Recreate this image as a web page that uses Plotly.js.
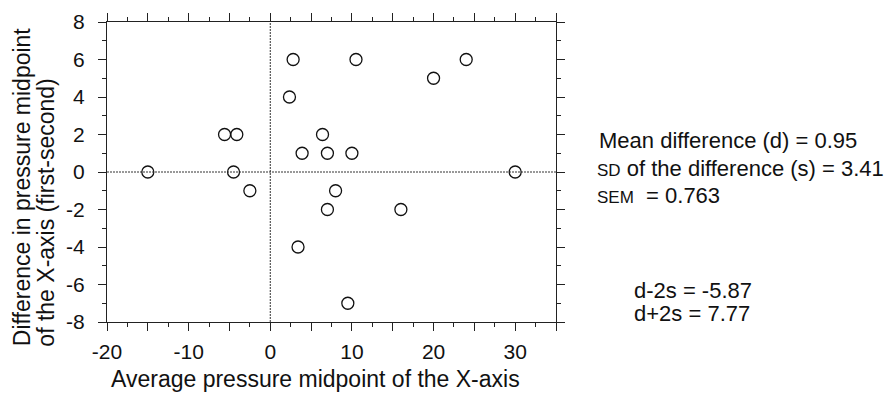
<!DOCTYPE html>
<html>
<head>
<meta charset="utf-8">
<script src="https://cdn.plot.ly/plotly-3.0.1.min.js"></script>
<style>html,body{margin:0;padding:0;background:#fff;}#chart{width:888px;height:394px;}</style>
</head>
<body>
<div id="chart"></div>
<script>
// Bland-Altman data: average (x) and difference (y)
const avgPressure = [-15, -5.6, -4.1, -4.5, -2.5, 2.8, 2.35, 10.5, 6.4, 3.9, 7.0, 10.0, 20.0, 24.0, 30.0, 8.0, 7.0, 16.0, 3.4, 9.5];
const diffPressure = [0, 2, 2, 0, -1, 6, 4, 6, 2, 1, 1, 1, 5, 6, 0, -1, -2, -2, -4, -7];

const xTickVals = [-20, -15, -10, -5, 0, 5, 10, 15, 20, 25, 30, 35];
const xTickText = ['-20', '', '-10', '', '0', '', '10', '', '20', '', '30', ''];
const yTickVals = [-8, -6, -4, -2, 0, 2, 4, 6, 8];
const yTickText = ['-8', '-6', '-4', '-2', '0', '2', '4', '6', '8'];

const xTitle = 'Average pressure midpoint of the X-axis';
const yTitleLines = ['Difference in pressure midpoint', 'of the X-axis (first-second)'];
const statLines = [
  'Mean difference (d) = 0.95',
  '<span style="font-size:17px">SD</span> of the difference (s) = 3.41',
  '<span style="font-size:17px">SEM</span>  = 0.763'
];
const limitLines = ['d-2s = -5.87', 'd+2s = 7.77'];

const FONT = 'Liberation Sans, Arial, Helvetica, sans-serif';

const trace = {
  x: avgPressure,
  y: diffPressure,
  type: 'scatter',
  mode: 'markers',
  marker: {symbol: 'circle-open', size: 12, color: '#111', line: {width: 1.3, color: '#111'}},
  hoverinfo: 'x+y',
  showlegend: false
};

const axisCommon = {
  showgrid: false,
  zeroline: false,
  showline: true,
  linecolor: '#222',
  linewidth: 1.2,
  mirror: 'allticks',
  ticks: 'outside',
  ticklen: 8,
  tickwidth: 1,
  tickcolor: '#222',
  tickfont: {family: FONT, size: 21, color: '#111'},
  tickmode: 'array'
};

const layout = {
  width: 888,
  height: 394,
  margin: {l: 107, r: 332, t: 22, b: 72},
  paper_bgcolor: '#fff',
  plot_bgcolor: '#fff',
  font: {family: FONT, color: '#111'},
  xaxis: Object.assign({}, axisCommon, {
    range: [-20, 35],
    tickvals: xTickVals,
    ticktext: xTickText,
    ticklabelstandoff: 3,
    minor: {dtick: 2.5, tick0: 0, ticklen: 4, ticks: 'outside', tickcolor: '#222', showgrid: false}
  }),
  yaxis: Object.assign({}, axisCommon, {
    range: [-8, 8],
    tickvals: yTickVals,
    ticktext: yTickText,
    ticklabelstandoff: 9,
    minor: {dtick: 1, tick0: 0, ticklen: 4, ticks: 'outside', tickcolor: '#222', showgrid: false}
  }),
  shapes: [
    {type: 'line', xref: 'x', yref: 'y', x0: -20, x1: 35, y0: 0, y1: 0,
     line: {color: '#333', width: 1, dash: '2px,1px'}},
    {type: 'line', xref: 'x', yref: 'y', x0: 0, x1: 0, y0: -8, y1: 8,
     line: {color: '#333', width: 1, dash: '2px,1px'}}
  ],
  annotations: [
    {text: xTitle, xref: 'paper', yref: 'paper', x: 0.4651, y: -0.2405,
     xanchor: 'center', yanchor: 'bottom', showarrow: false,
     font: {family: FONT, size: 23, color: '#111'}},
    {text: yTitleLines[0], xref: 'paper', yref: 'paper', x: -0.1908, y: -0.0877,
     xanchor: 'center', yanchor: 'bottom', textangle: -90, showarrow: false,
     font: {family: FONT, size: 23, color: '#111'}},
    {text: yTitleLines[1], xref: 'paper', yref: 'paper', x: -0.1351, y: -0.0877,
     xanchor: 'center', yanchor: 'bottom', textangle: -90, showarrow: false,
     font: {family: FONT, size: 23, color: '#111'}},
    {text: statLines[0], xref: 'paper', yref: 'paper', x: 1.0914, y: 0.6057,
     xanchor: 'left', yanchor: 'middle', showarrow: false,
     font: {family: FONT, size: 22, color: '#111'}},
    {text: statLines[1], xref: 'paper', yref: 'paper', x: 1.0870, y: 0.5113,
     xanchor: 'left', yanchor: 'middle', showarrow: false,
     font: {family: FONT, size: 22, color: '#111'}},
    {text: statLines[2], xref: 'paper', yref: 'paper', x: 1.0870, y: 0.4223,
     xanchor: 'left', yanchor: 'middle', showarrow: false,
     font: {family: FONT, size: 22, color: '#111'}},
    {text: limitLines[0], xref: 'paper', yref: 'paper', x: 1.1687, y: 0.1057,
     xanchor: 'left', yanchor: 'middle', showarrow: false,
     font: {family: FONT, size: 22, color: '#111'}},
    {text: limitLines[1], xref: 'paper', yref: 'paper', x: 1.1687, y: 0.028,
     xanchor: 'left', yanchor: 'middle', showarrow: false,
     font: {family: FONT, size: 22, color: '#111'}}
  ]
};

Plotly.newPlot('chart', [trace], layout, {displayModeBar: false, staticPlot: true});
</script>
</body>
</html>
